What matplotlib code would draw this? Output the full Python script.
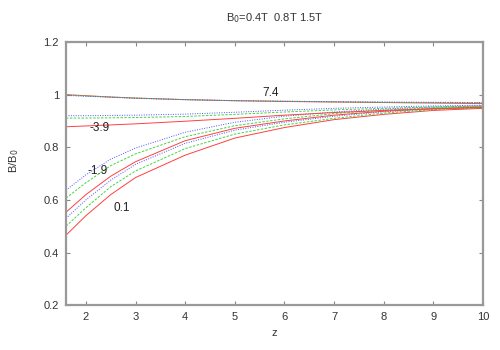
import matplotlib
matplotlib.use('Agg')
import matplotlib.pyplot as plt

plt.rcParams['font.family'] = ['Liberation Sans', 'DejaVu Sans']

z = [1.6, 2, 2.5, 3, 4, 5, 6, 7, 8, 9, 10]

# group 0.1
r_01 = [0.466, 0.54, 0.62, 0.685, 0.77, 0.835, 0.875, 0.905, 0.925, 0.94, 0.948]
g_01 = [0.50, 0.57, 0.65, 0.71, 0.795, 0.85, 0.885, 0.91, 0.93, 0.943, 0.951]
b_01 = [0.53, 0.60, 0.675, 0.735, 0.815, 0.865, 0.895, 0.918, 0.935, 0.946, 0.953]
# group -1.9
r_m19 = [0.553, 0.62, 0.69, 0.745, 0.825, 0.872, 0.900, 0.922, 0.937, 0.947, 0.953]
g_m19 = [0.607, 0.665, 0.73, 0.775, 0.84, 0.882, 0.908, 0.928, 0.941, 0.950, 0.955]
b_m19 = [0.637, 0.695, 0.755, 0.797, 0.857, 0.895, 0.918, 0.934, 0.945, 0.953, 0.958]
# group -3.9
r_m39 = [0.878, 0.881, 0.885, 0.889, 0.899, 0.910, 0.922, 0.932, 0.940, 0.946, 0.951]
g_m39 = [0.911, 0.911, 0.912, 0.913, 0.917, 0.925, 0.934, 0.942, 0.948, 0.953, 0.956]
b_m39 = [0.920, 0.920, 0.921, 0.922, 0.926, 0.933, 0.941, 0.948, 0.953, 0.957, 0.960]
# group 7.4
r_74 = [1.0, 0.996, 0.991, 0.987, 0.981, 0.977, 0.974, 0.972, 0.970, 0.968, 0.966]
g_74 = [0.998, 0.995, 0.991, 0.987, 0.981, 0.977, 0.975, 0.973, 0.971, 0.970, 0.969]
b_74 = [0.997, 0.994, 0.990, 0.986, 0.981, 0.977, 0.975, 0.973, 0.972, 0.971, 0.970]

labels = ['0.1', '-1.9', '-3.9', '7.4']
label_pos = [(2.72, 0.569), (2.24, 0.71), (2.28, 0.873), (5.72, 1.006)]

fig = plt.figure(figsize=(5, 3.5), dpi=100)
ax = fig.add_axes([0.132, 0.128, 0.834, 0.752])

groups = [(r_01, g_01, b_01), (r_m19, g_m19, b_m19),
          (r_m39, g_m39, b_m39), (r_74, g_74, b_74)]
for r, g, b in groups:
    ax.plot(z, r, color='#ff4040', lw=0.7, ls='-')
    ax.plot(z, g, color='#40d840', lw=0.7, ls=(0, (2.5, 1.5)))
    ax.plot(z, b, color='#5050ff', lw=0.7, ls=(0, (1, 1.5)))

for t, (x, y) in zip(labels, label_pos):
    ax.text(x, y, t, fontsize=8.5, ha='center', va='center', color='#222222')

ax.set_xlim(1.6, 10)
ax.set_ylim(0.2, 1.2)
ax.set_xticks(range(2, 11))
ax.set_yticks([0.2, 0.4, 0.6, 0.8, 1.0, 1.2])
ax.set_yticklabels(['0.2', '0.4', '0.6', '0.8', '1', '1.2'])
ax.tick_params(direction='in', length=3, width=0.8, color='#888888',
               labelsize=8, labelcolor='#333333', top=True, right=True, pad=5)
for s in ax.spines.values():
    s.set_color('#999999')
    s.set_linewidth(1.6)

ax.set_xlabel('z', fontsize=8, color='#333333', labelpad=4)
ax.set_ylabel('B/B$_0$', fontsize=8, color='#333333')
ax.yaxis.set_label_coords(-0.108, 0.55)
ax.set_title('B$_0$=0.4T  0.8T 1.5T', fontsize=8, color='#333333', pad=15)

fig.savefig('out.png', dpi=100)
